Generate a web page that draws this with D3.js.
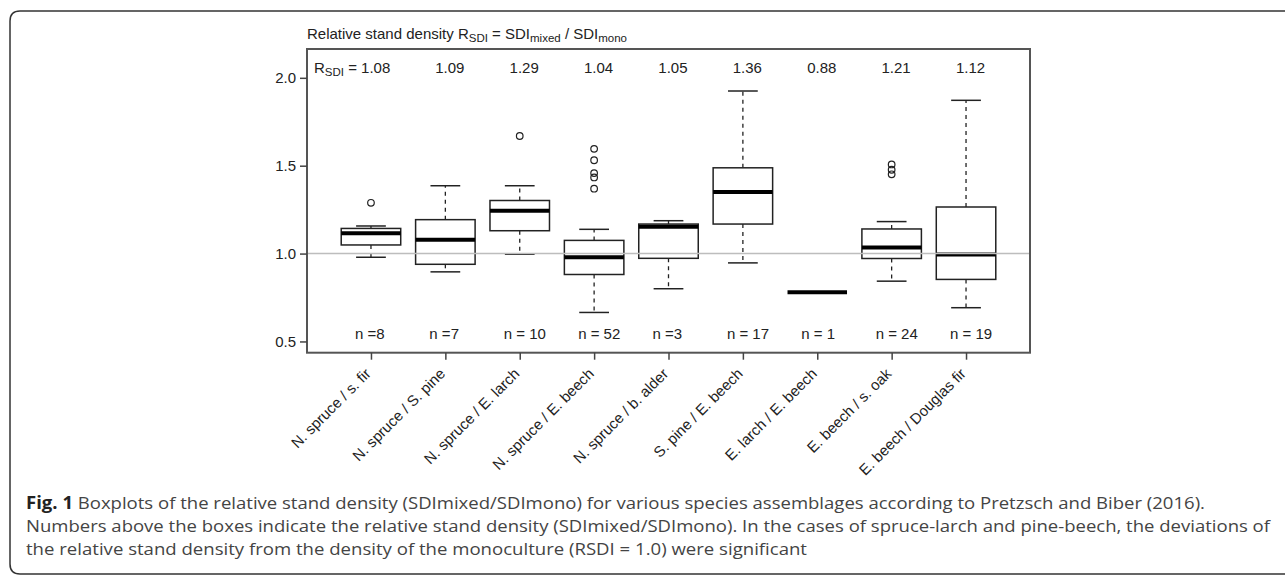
<!DOCTYPE html>
<html>
<head>
<meta charset="utf-8">
<script src="https://cdn.jsdelivr.net/npm/d3@7"></script>
<style>
  body { margin: 0; background: #fff; }
  svg { display: block; }
</style>
</head>
<body>
<svg width="1285" height="576"></svg>
<script>
// species pairs on the x axis
var categories = ["N. spruce / s. fir", "N. spruce / S. pine", "N. spruce / E. larch",
    "N. spruce / E. beech", "N. spruce / b. alder", "S. pine / E. beech",
    "E. larch / E. beech", "E. beech / s. oak", "E. beech / Douglas fir"];
var nObs = ["n =8", "n =7", "n = 10", "n = 52", "n =3", "n = 17", "n = 1", "n = 24", "n = 19"];
var rsdi = ["1.08", "1.09", "1.29", "1.04", "1.05", "1.36", "0.88", "1.21", "1.12"];

// box statistics
var whiskerLow  = [0.979, 0.896, 0.996, 0.665, 0.800, 0.947, 0.780, 0.843, 0.692];
var q1          = [1.049, 0.939, 1.130, 0.881, 0.973, 1.168, 0.780, 0.972, 0.853];
var median      = [1.115, 1.078, 1.244, 0.979, 1.153, 1.350, 0.780, 1.034, 0.995];
var q3          = [1.143, 1.193, 1.302, 1.075, 1.168, 1.488, 0.780, 1.140, 1.265];
var whiskerHigh = [1.157, 1.386, 1.386, 1.138, 1.187, 1.925, 0.780, 1.182, 1.872];
var outliers = [[1.289], [], [1.669], [1.596, 1.531, 1.458, 1.433, 1.369], [], [], [], [1.507, 1.477, 1.451], []];

var yTicks = [0.5, 1.0, 1.5, 2.0];

var svg = d3.select('svg');

// outer figure frame (runs off the right side)
svg.append('path')
    .attr('d', 'M1300,11 H20 Q10,11 10,21 V564 Q10,574 20,574 H1300')
    .attr('fill', 'none')
    .attr('stroke', '#333')
    .attr('stroke-width', 1.5);

var plotL = 307, plotR = 1030, plotT = 49, plotB = 352.7;

var x = d3.scaleLinear().domain([0.14, 9.86]).range([plotL, plotR]);
var y = d3.scaleLinear().domain([0.436, 2.164]).range([plotB, plotT]);

var boxes = categories.map(function(c, i) {
    return {cat: c, pos: i + 1, lo: whiskerLow[i], q1: q1[i], med: median[i], q3: q3[i],
        hi: whiskerHigh[i], out: outliers[i], n: nObs[i], r: rsdi[i]};
});

var bw = x(1.4) - x(1);   // half box width
var cw = x(1.2) - x(1);   // half staple width

var g = svg.append('g');

var box = g.selectAll('.box')
    .data(boxes)
    .enter()
    .append('g')
    .attr('class', 'box');

// dashed whiskers, staples and boxes
box.filter(function(d) { return d.hi > d.lo; }).each(function(d) {
    var b = d3.select(this);
    b.append('line')
        .attr('x1', x(d.pos)).attr('x2', x(d.pos))
        .attr('y1', y(d.q3)).attr('y2', y(d.hi))
        .attr('stroke', '#222').attr('stroke-width', 1.3).attr('stroke-dasharray', '4,4');
    b.append('line')
        .attr('x1', x(d.pos)).attr('x2', x(d.pos))
        .attr('y1', y(d.q1)).attr('y2', y(d.lo))
        .attr('stroke', '#222').attr('stroke-width', 1.3).attr('stroke-dasharray', '4,4');
    b.append('line')
        .attr('x1', x(d.pos) - cw).attr('x2', x(d.pos) + cw)
        .attr('y1', y(d.hi)).attr('y2', y(d.hi))
        .attr('stroke', '#222').attr('stroke-width', 1.5);
    b.append('line')
        .attr('x1', x(d.pos) - cw).attr('x2', x(d.pos) + cw)
        .attr('y1', y(d.lo)).attr('y2', y(d.lo))
        .attr('stroke', '#222').attr('stroke-width', 1.5);
    b.append('rect')
        .attr('x', x(d.pos) - bw)
        .attr('width', 2 * bw)
        .attr('y', y(d.q3))
        .attr('height', y(d.q1) - y(d.q3))
        .attr('fill', '#fff')
        .attr('stroke', '#222')
        .attr('stroke-width', 1.5);
});

// medians
box.append('line')
    .attr('x1', function(d) { return x(d.pos) - bw; })
    .attr('x2', function(d) { return x(d.pos) + bw; })
    .attr('y1', function(d) { return y(d.med); })
    .attr('y2', function(d) { return y(d.med); })
    .attr('stroke', '#000')
    .attr('stroke-width', 4);

// outliers
box.selectAll('circle')
    .data(function(d) { return d.out.map(function(v) { return {pos: d.pos, v: v}; }); })
    .enter()
    .append('circle')
    .attr('cx', function(d) { return x(d.pos); })
    .attr('cy', function(d) { return y(d.v); })
    .attr('r', 3.3)
    .attr('fill', 'none')
    .attr('stroke', '#222')
    .attr('stroke-width', 1.2);

// reference line at R = 1
g.append('line')
    .attr('x1', plotL).attr('x2', plotR)
    .attr('y1', y(1)).attr('y2', y(1))
    .attr('stroke', '#bdbdbd')
    .attr('stroke-width', 1.5);

// plot box
g.append('rect')
    .attr('x', plotL).attr('y', plotT)
    .attr('width', plotR - plotL).attr('height', plotB - plotT)
    .attr('fill', 'none')
    .attr('stroke', '#555')
    .attr('stroke-width', 2);

// y axis
var yAxis = svg.append('g')
    .attr('transform', 'translate(' + plotL + ',0)')
    .call(d3.axisLeft(y).tickValues(yTicks).tickFormat(d3.format('.1f')).tickSize(7).tickPadding(4));
yAxis.select('.domain').remove();
yAxis.selectAll('line').attr('stroke', '#444').attr('stroke-width', 1.5);
yAxis.selectAll('text')
    .attr('font-family', 'Liberation Sans, Arial, sans-serif')
    .attr('font-size', 15)
    .attr('fill', '#222');

// x axis ticks
var xAxis = svg.append('g')
    .attr('transform', 'translate(0,' + plotB + ')')
    .call(d3.axisBottom(x).tickValues(d3.range(1, 10)).tickFormat('').tickSize(7));
xAxis.select('.domain').remove();
xAxis.selectAll('line').attr('stroke', '#444').attr('stroke-width', 1.5);

// rotated category labels
svg.selectAll('.xlab')
    .data(boxes)
    .enter()
    .append('text')
    .attr('class', 'xlab')
    .attr('transform', function(d) { return 'translate(' + (x(d.pos) - 3) + ',371)rotate(-45)'; })
    .attr('text-anchor', 'end')
    .attr('dy', '0.35em')
    .attr('font-family', 'Liberation Sans, Arial, sans-serif')
    .attr('font-size', 15)
    .attr('fill', '#222')
    .text(function(d) { return d.cat; });

// n labels
svg.selectAll('.nlab')
    .data(boxes)
    .enter()
    .append('text')
    .attr('class', 'nlab')
    .attr('x', function(d) { return x(d.pos - 0.215); })
    .attr('y', 338.5)
    .attr('font-family', 'Liberation Sans, Arial, sans-serif')
    .attr('font-size', 15)
    .attr('fill', '#222')
    .text(function(d) { return d.n; });

// R_SDI values
svg.selectAll('.rlab')
    .data(boxes.slice(1))
    .enter()
    .append('text')
    .attr('class', 'rlab')
    .attr('x', function(d) { return x(d.pos + 0.06); })
    .attr('y', 73)
    .attr('text-anchor', 'middle')
    .attr('font-family', 'Liberation Sans, Arial, sans-serif')
    .attr('font-size', 15)
    .attr('fill', '#222')
    .text(function(d) { return d.r; });

var r0 = svg.append('text')
    .attr('x', 314).attr('y', 73)
    .attr('font-family', 'Liberation Sans, Arial, sans-serif')
    .attr('font-size', 15)
    .attr('fill', '#222');
r0.append('tspan').text('R');
r0.append('tspan').attr('font-size', 11.5).attr('dy', 3).text('SDI');
r0.append('tspan').attr('dy', -3).text(' = ' + rsdi[0]);

// title
var t = svg.append('text')
    .attr('x', 307).attr('y', 39)
    .attr('font-family', 'Liberation Sans, Arial, sans-serif')
    .attr('font-size', 15)
    .attr('fill', '#222');
t.append('tspan').text('Relative stand density R');
t.append('tspan').attr('font-size', 11.5).attr('dy', 3).text('SDI');
t.append('tspan').attr('dy', -3).text(' = SDI');
t.append('tspan').attr('font-size', 11.5).attr('dy', 3).text('mixed');
t.append('tspan').attr('dy', -3).text(' / SDI');
t.append('tspan').attr('font-size', 11.5).attr('dy', 3).text('mono');

// caption
var capFont = 'Open Sans, Noto Sans, sans-serif';
var c1 = svg.append('text')
    .attr('x', 26).attr('y', 509)
    .attr('font-family', capFont).attr('font-size', 17).attr('fill', '#444')
    .attr('textLength', 1179).attr('lengthAdjust', 'spacingAndGlyphs');
c1.append('tspan').attr('font-weight', 'bold').attr('fill', '#222').text('Fig. 1');
c1.append('tspan').text(' Boxplots of the relative stand density (SDImixed/SDImono) for various species assemblages according to Pretzsch and Biber (2016).');

svg.append('text')
    .attr('x', 26).attr('y', 532)
    .attr('font-family', capFont).attr('font-size', 17).attr('fill', '#444')
    .attr('textLength', 1244).attr('lengthAdjust', 'spacingAndGlyphs')
    .text('Numbers above the boxes indicate the relative stand density (SDImixed/SDImono). In the cases of spruce-larch and pine-beech, the deviations of');

svg.append('text')
    .attr('x', 26).attr('y', 555)
    .attr('font-family', capFont).attr('font-size', 17).attr('fill', '#444')
    .attr('textLength', 781).attr('lengthAdjust', 'spacingAndGlyphs')
    .text('the relative stand density from the density of the monoculture (RSDI = 1.0) were significant');
</script>
</body>
</html>
